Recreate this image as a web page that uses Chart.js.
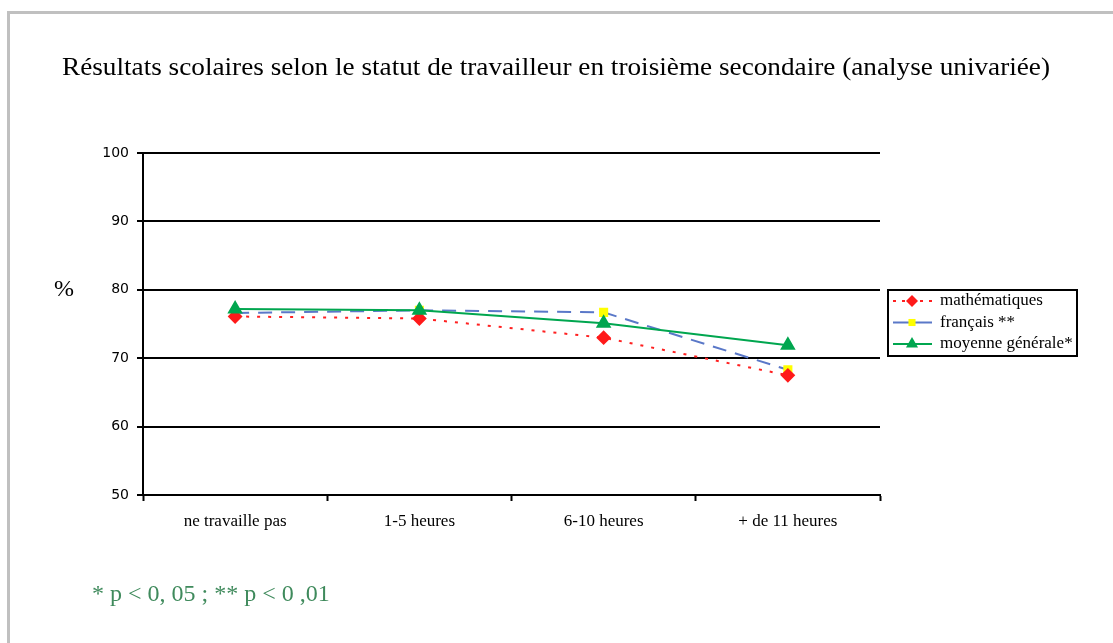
<!DOCTYPE html>
<html><head><meta charset="utf-8">
<script src="https://cdn.jsdelivr.net/npm/chart.js@4"></script>
<style>html,body{margin:0;padding:0;background:#fff;}#wrap{position:relative;width:1113px;height:643px;}</style>
</head><body><div id="wrap"><canvas id="c" width="1113" height="643"></canvas></div>
<script>
const categories = ["ne travaille pas", "1-5 heures", "6-10 heures", "+ de 11 heures"];
const mathValues = [76.1, 75.8, 73.0, 67.5];
const frenchValues = [76.6, 77.0, 76.7, 68.3];
const averageValues = [77.2, 77.0, 75.1, 71.9];
const seriesNames = ["mathématiques", "français **", "moyenne générale*"];
const yTicks = [50, 60, 70, 80, 90, 100];
const titleText = "Résultats scolaires selon le statut de travailleur en troisième secondaire (analyse univariée)";
const yAxisLabel = "%";
const footnote = "* p < 0, 05 ; ** p < 0 ,01";

const serif = '"Liberation Serif", "Times New Roman", serif';

const decor = {
  id: 'decor',
  beforeDraw(chart) {
    const ctx = chart.ctx;
    ctx.save();
    ctx.fillStyle = '#fff';
    ctx.fillRect(0, 0, chart.width, chart.height);
    ctx.fillStyle = '#c0c0c0';
    ctx.fillRect(7, 11, 3, 632);
    ctx.fillRect(7, 11, 1106, 3);
    ctx.restore();
  },
  afterDraw(chart) {
    const ctx = chart.ctx;
    ctx.save();
    ctx.fillStyle = '#000';
    ctx.textBaseline = 'middle';
    ctx.font = '26px ' + serif;
    ctx.textAlign = 'left';
    const tw = ctx.measureText(titleText).width;
    ctx.save();
    ctx.translate(62, 68);
    ctx.scale(988 / tw, 1);
    ctx.fillText(titleText, 0, 0);
    ctx.restore();
    ctx.font = '24px ' + serif;
    ctx.fillText(yAxisLabel, 54, 290);
    ctx.fillStyle = '#3f8a5c';
    ctx.font = '24px ' + serif;
    ctx.fillText(footnote, 92, 595);
    // legend
    const lx = 888, ly = 290, lw = 189, lh = 66;
    ctx.strokeStyle = '#000';
    ctx.lineWidth = 2;
    ctx.strokeRect(lx, ly, lw, lh);
    const ds = chart.data.datasets;
    const order = [1, 2, 0];
    order.forEach((di, row) => {
      const d = ds[di];
      const y = ly + 11 + row * 21.5;
      ctx.save();
      ctx.strokeStyle = d.borderColor;
      ctx.lineWidth = 2;
      ctx.setLineDash(row === 0 ? [3, 6] : []);
      ctx.beginPath();
      ctx.moveTo(893, y);
      ctx.lineTo(932, y);
      ctx.stroke();
      ctx.setLineDash([]);
      ctx.fillStyle = d.pointBackgroundColor;
      ctx.strokeStyle = d.pointBackgroundColor;
      Chart.helpers.drawPoint(ctx, {pointStyle: d.pointStyle, radius: d.pointRadius, rotation: 0, borderWidth: 0}, 912, y);
      ctx.restore();
      ctx.fillStyle = '#000';
      ctx.font = '17px ' + serif;
      ctx.textAlign = 'left';
      ctx.textBaseline = 'middle';
      ctx.fillText(d.label, 940, y);
    });
    ctx.restore();
  }
};

new Chart(document.getElementById('c'), {
  type: 'line',
  data: {
    labels: categories,
    datasets: [
      { label: seriesNames[2], data: averageValues, order: 0, borderColor: '#00a64f', backgroundColor: '#00a64f',
        pointBackgroundColor: '#00a64f', pointBorderColor: '#00a64f', pointStyle: 'triangle', pointRadius: 7,
        borderWidth: 2, tension: 0 },
      { label: seriesNames[0], data: mathValues, order: 1, borderColor: '#ff2020', backgroundColor: '#ff2020',
        pointBackgroundColor: '#ff1a1a', pointBorderColor: '#ff1a1a', pointStyle: 'rectRot', pointRadius: 6,
        borderWidth: 2, borderDash: [3, 8], tension: 0 },
      { label: seriesNames[1], data: frenchValues, order: 2, borderColor: '#5a78c8', backgroundColor: '#5a78c8',
        pointBackgroundColor: '#ffff00', pointBorderColor: '#ffff00', pointStyle: 'rect', pointRadius: 5,
        borderWidth: 2, borderDash: [14, 9], tension: 0 }
    ]
  },
  options: {
    responsive: false,
    animation: false,
    layout: { padding: { left: 0, right: 233, top: 153, bottom: 0 } },
    plugins: { legend: { display: false }, tooltip: { enabled: false }, title: { display: false } },
    scales: {
      x: {
        offset: true,
        grid: { drawOnChartArea: false, color: '#000', tickLength: 6, tickWidth: 2, offset: true },
        border: { color: '#000', width: 2 },
        ticks: { color: '#000', font: { family: serif, size: 17 }, padding: 10, maxRotation: 0 },
        afterFit(s) { s.height = 148; }
      },
      y: {
        min: 50, max: 100,
        afterBuildTicks(s) { s.ticks = yTicks.map(v => ({ value: v })); },
        grid: { color: '#000', lineWidth: 2, tickLength: 6 },
        border: { color: '#000', width: 2 },
        ticks: { color: '#000', font: { family: '"DejaVu Sans", Verdana, sans-serif', size: 14 }, padding: 8 },
        afterFit(s) { s.width = 143; }
      }
    }
  },
  plugins: [decor]
});
</script>
</body></html>
